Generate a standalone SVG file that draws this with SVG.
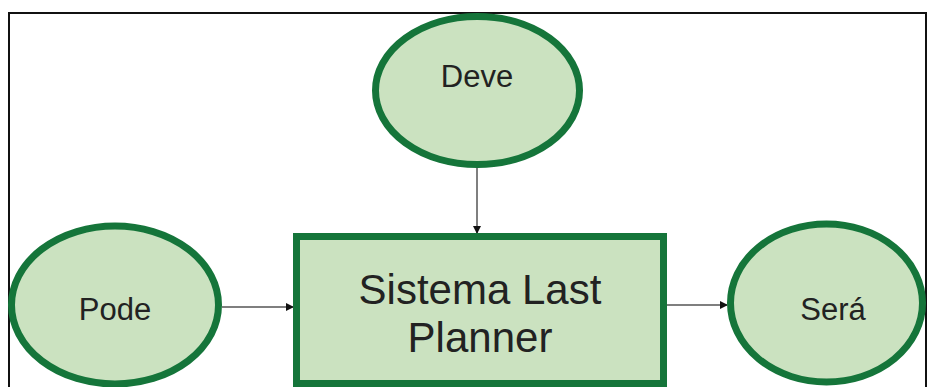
<svg xmlns="http://www.w3.org/2000/svg" width="928" height="387" viewBox="0 0 928 387">
<style>
.node{fill:#cbe2c0;stroke:#15753a;stroke-width:7}
.lbl{font-family:"Liberation Sans",Arial,sans-serif;fill:#222;text-anchor:middle}
.conn{stroke:#555;stroke-width:1.5;fill:none}
</style>
<defs>
<marker id="ah" markerWidth="8" markerHeight="8" refX="7" refY="4" orient="auto" markerUnits="userSpaceOnUse">
<path d="M0,0 L8,4 L0,8 Z" fill="#111"/>
</marker>
</defs>
<rect x="0" y="0" width="928" height="387" fill="#fff"/>
<path d="M9,387 L9,13 L926,13 L926,387" fill="none" stroke="#111" stroke-width="2"/>
<g id="connectors">
<line class="conn" x1="477" y1="168" x2="477" y2="233" marker-end="url(#ah)"/>
<line class="conn" x1="222" y1="307" x2="293" y2="307" marker-end="url(#ah)"/>
<line class="conn" x1="665" y1="305" x2="727" y2="305" marker-end="url(#ah)"/>
</g>
<g id="deve">
<ellipse class="node" cx="477.5" cy="90.5" rx="102" ry="74"/>
<text class="lbl" x="477" y="87" font-size="31">Deve</text>
</g>
<g id="pode">
<ellipse class="node" cx="115" cy="305" rx="103.5" ry="79"/>
<text class="lbl" x="115" y="320" font-size="31">Pode</text>
</g>
<g id="sera">
<ellipse class="node" cx="826.5" cy="303" rx="96" ry="79"/>
<text class="lbl" x="833" y="320" font-size="31">Será</text>
</g>
<g id="lastplanner">
<rect class="node" x="296.5" y="236.5" width="367" height="147"/>
<text class="lbl" x="480" y="304" font-size="42">Sistema Last</text>
<text class="lbl" x="480" y="352" font-size="42">Planner</text>
</g>
</svg>
